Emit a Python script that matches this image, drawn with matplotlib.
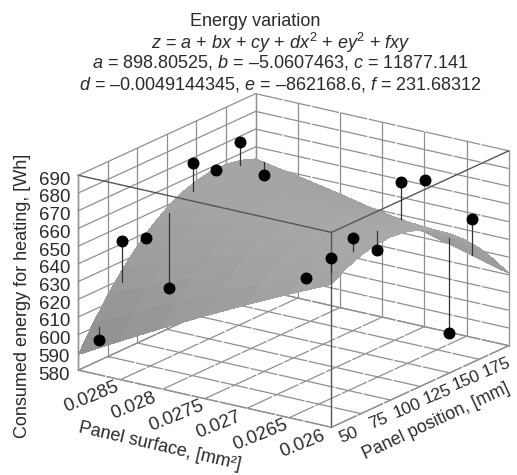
import numpy as np
import matplotlib
matplotlib.use("Agg")
from matplotlib import pyplot as plt
from matplotlib.colors import LinearSegmentedColormap
from mpl_toolkits.mplot3d import proj3d

plt.rcParams['font.family'] = ['Liberation Sans', 'DejaVu Sans']
plt.rcParams['mathtext.fontset'] = 'custom'
plt.rcParams['mathtext.rm'] = 'Liberation Sans'
plt.rcParams['mathtext.it'] = 'Liberation Sans:italic'

surface_ticks = [0.026, 0.0265, 0.027, 0.0275, 0.028, 0.0285, 0.029]
surface_labels = ['0.026', '0.0265', '0.027', '0.0275', '0.028', '0.0285']
position_ticks = [50, 75, 100, 125, 150, 175, 200]
position_labels = ['50', '75', '100', '125', '150', '175']
energy_ticks = [580, 590, 600, 610, 620, 630, 640, 650, 660, 670, 680, 690]

grid_position = [50, 62.5, 75, 87.5, 100, 112.5, 125, 137.5, 150, 162.5, 175, 187.5, 200]
energy_026 = [660.65, 665.78, 669.37, 671.42, 671.94, 670.93, 668.37, 664.28, 658.66, 651.50, 642.81, 632.57, 620.81]
energy_0265 = [649.75, 656.32, 661.36, 664.87, 666.84, 667.27, 666.16, 663.53, 659.35, 653.64, 646.40, 637.61, 627.29]
energy_027 = [638.42, 646.44, 652.92, 657.88, 661.29, 663.17, 663.52, 662.32, 659.59, 655.34, 649.53, 642.20, 633.33]
energy_0275 = [626.65, 636.12, 644.06, 650.46, 655.32, 658.64, 660.43, 660.69, 659.41, 656.60, 652.25, 646.36, 638.93]
energy_028 = [614.46, 625.38, 634.76, 642.61, 648.92, 653.70, 656.94, 658.64, 658.81, 657.44, 654.54, 650.10, 644.13]
energy_0285 = [601.83, 614.20, 625.03, 634.32, 642.08, 648.31, 652.99, 656.14, 657.76, 657.85, 656.39, 653.39, 648.87]
energy_029 = [588.78, 602.59, 614.87, 625.61, 634.82, 642.50, 648.63, 653.24, 656.30, 657.83, 657.82, 656.28, 653.20]

point_surface = [0.0288, 0.0289, 0.02895, 0.0289, 0.0289, 0.02895, 0.02895, 0.0288,
                 0.0265, 0.02615, 0.02615, 0.02625, 0.0265, 0.02675, 0.02625, 0.0263]
point_position = [53, 80, 104, 120, 140, 163, 183, 192.5,
                  64.5, 60, 79, 106.5, 144.5, 182.5, 167, 190]
point_energy = [598.2, 644.5, 638.4, 605.8, 670.1, 659.0, 668.7, 648.8,
                654.2, 670.7, 676.6, 660.3, 684.3, 671.0, 594.8, 651.5]
stem_energy = [605.6, 621.4, 636.0, 648.0, 654.8, 657.0, 655.7, 656.0,
               654.2, 663.0, 669.0, 671.0, 662.9, 671.0, 648.4, 631.0]

GRID = '#8f8f8f'
EDGE = '#555555'
TEXT = '#2a2a2a'

fig = plt.figure(figsize=(5.17, 4.75), dpi=100)
ax = fig.add_axes([52.7 / 517, -26.3 / 475, 469 / 517, 469 / 475], projection='3d')
ax.set_proj_type('ortho')
ax.set_box_aspect((1, 1, 0.666))
ax.view_init(elev=18.8, azim=-55)
ax.set_xlim(max(surface_ticks), min(surface_ticks), view_margin=0)
ax.set_ylim(min(position_ticks), max(position_ticks), view_margin=0)
ax.set_zlim(min(energy_ticks), max(energy_ticks), view_margin=0)
ax.set_axis_off()
ax.patch.set_visible(False)
ax.computed_zorder = False

s0, s1 = min(surface_ticks), max(surface_ticks)
p0, p1 = min(position_ticks), max(position_ticks)
e0, e1 = min(energy_ticks), max(energy_ticks)
dash = dict(color=GRID, lw=0.9, dashes=(22, 1.2), zorder=1)

# floor and the two back walls
for s in surface_ticks:
    ax.plot([s, s], [p0, p1], [e0, e0], **dash)
    ax.plot([s, s], [p1, p1], [e0, e1], color=GRID, lw=0.9, zorder=1)
for p in position_ticks:
    ax.plot([s0, s1], [p, p], [e0, e0], **dash)
    ax.plot([s1, s1], [p, p], [e0, e1], color=GRID, lw=0.9, zorder=1)
for e in energy_ticks:
    ax.plot([s1, s1], [p0, p1], [e, e], color=GRID, lw=0.9, zorder=1)
    ax.plot([s0, s1], [p1, p1], [e, e], **dash)

S, P = np.meshgrid(surface_ticks, grid_position, indexing='ij')
Z = np.array([energy_026, energy_0265, energy_027, energy_0275, energy_028, energy_0285, energy_029])
greys = LinearSegmentedColormap.from_list('panel', ['#8f8f8f', '#aaaaaa'])
ax.plot_surface(S, P, Z, cmap=greys, vmin=590, vmax=672, rstride=1, cstride=1,
                linewidth=0, antialiased=False, shade=False, zorder=2)

# front edges of the box sit on top of the surface
ax.plot([s0, s1], [p0, p0], [e1, e1], color=EDGE, lw=1.0, zorder=3)
ax.plot([s0, s0], [p0, p1], [e1, e1], color=EDGE, lw=1.0, zorder=3)
ax.plot([s0, s0], [p0, p0], [e0, e1], color=EDGE, lw=1.0, zorder=3)
ax.plot([s1, s1], [p0, p0], [e0, e1], color=GRID, lw=1.0, zorder=3)
ax.plot([s0, s1], [p0, p0], [e0, e0], **{**dash, 'zorder': 3})
ax.plot([s0, s0], [p0, p1], [e0, e0], **{**dash, 'zorder': 3})

for s, p, e, foot in zip(point_surface, point_position, point_energy, stem_energy):
    ax.plot([s, s], [p, p], [e, foot], color='#333333', lw=0.9, zorder=4)
ax.plot(point_surface, point_position, point_energy, ls='none', marker='o', ms=7.6,
        color='black', zorder=5)


def label_at(s, p, e, text, dx, dy, **kw):
    x, y, _ = proj3d.proj_transform(s, p, e, ax.get_proj())
    ax.annotate(text, (x, y), xytext=(dx, dy), textcoords='offset pixels',
                ha='center', va='center', color=TEXT, annotation_clip=False, **kw)


for s, text in zip(surface_ticks, surface_labels):
    label_at(s, p0, e0, text, -29, -17, fontsize=13.5, rotation=22)
for p, text in zip(position_ticks, position_labels):
    label_at(s0, p, e0, text, 17, -8, fontsize=12.5, rotation=22)
for e in energy_ticks:
    label_at(s1, p0, e, str(e), -24, -5, fontsize=13.5)

fig.text(23 / 517, 1 - 296 / 475, 'Consumed energy for heating, [Wh]', rotation=90,
         ha='center', va='center', fontsize=13, color=TEXT)
fig.text(160 / 517, 1 - 446 / 475, 'Panel surface, [mm²]', rotation=-13,
         ha='center', va='center', fontsize=13, color=TEXT)
fig.text(436 / 517, 1 - 421 / 475, 'Panel position, [mm]', rotation=25,
         ha='center', va='center', fontsize=12.8, color=TEXT)

fig.text(255 / 517, 1 - 21 / 475, 'Energy variation', ha='center', va='center', fontsize=13, color=TEXT)
fig.text(281 / 517, 1 - 43 / 475, r'$z$ = $a$ + $bx$ + $cy$ + $dx^2$ + $ey^2$ + $fxy$',
         ha='center', va='center', fontsize=13, color=TEXT)
fig.text(280 / 517, 1 - 63 / 475, '$a$ = 898.80525, $b$ = –5.0607463, $c$ = 11877.141',
         ha='center', va='center', fontsize=13, color=TEXT)
fig.text(280 / 517, 1 - 84 / 475, '$d$ = –0.0049144345, $e$ = –862168.6, $f$ = 231.68312',
         ha='center', va='center', fontsize=13, color=TEXT)

fig.savefig('out.png', dpi=100)
